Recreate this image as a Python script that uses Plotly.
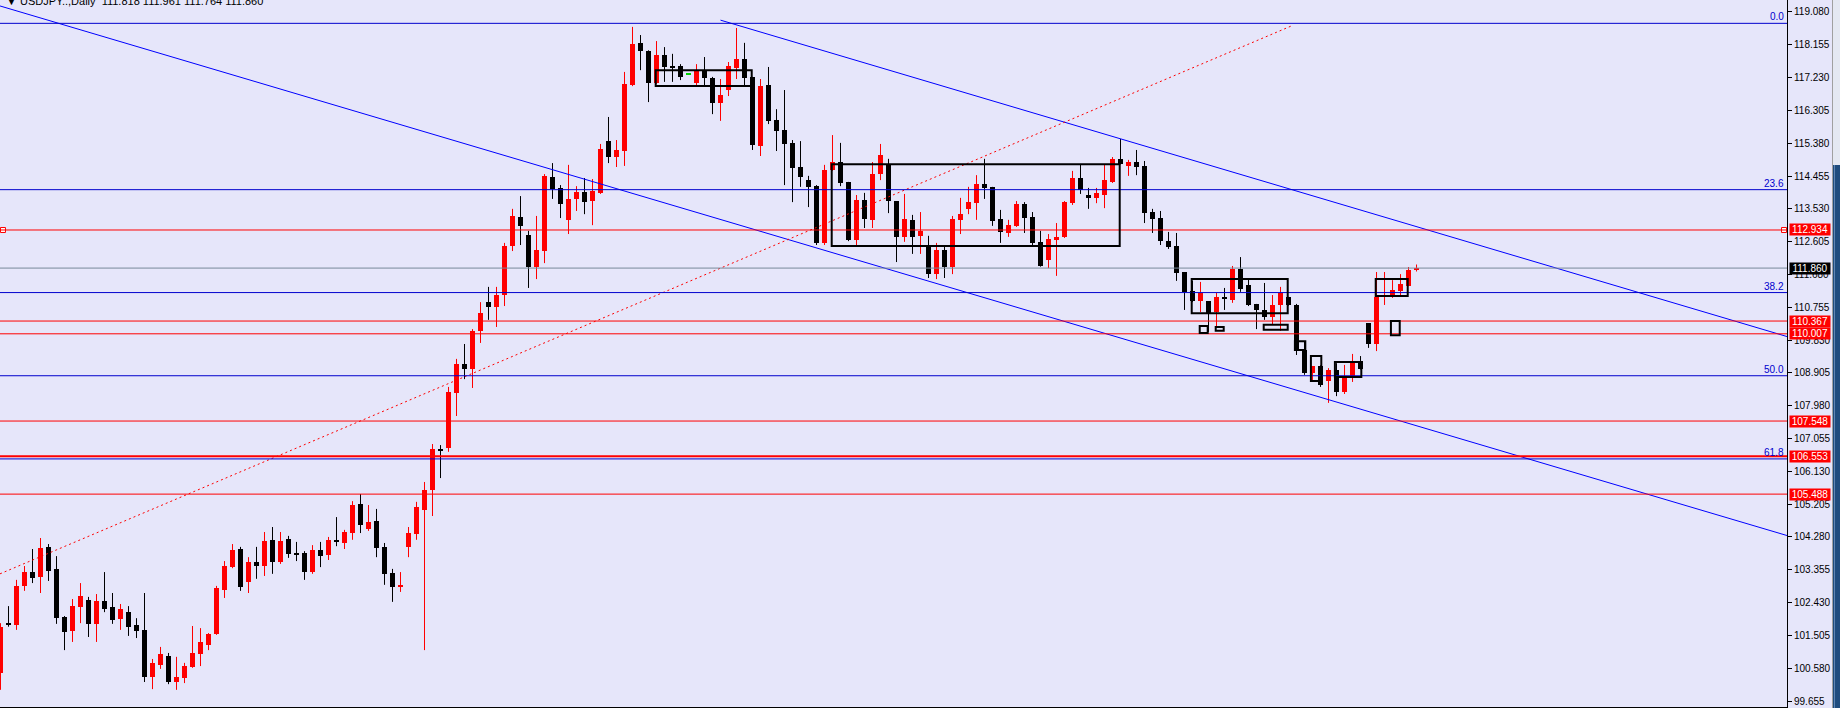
import plotly.graph_objects as go

# ---------------- data (USDJPY daily) ----------------
opens = [100.44, 101.85, 101.80, 102.90, 103.29, 103.15, 104.00, 103.38, 102.02, 101.63,
         102.31, 102.50, 101.83, 102.47, 102.31, 101.97, 102.16, 101.80, 101.66, 100.33,
         100.67, 100.92, 100.19, 100.30, 100.61, 100.98, 101.23, 101.54, 102.78, 103.43,
         103.94, 103.01, 103.57, 103.46, 104.20, 103.57, 104.22, 103.83, 103.83, 103.29,
         103.91, 103.77, 104.20, 104.11, 104.39, 105.21, 104.50, 104.73, 104.00, 103.26,
         102.87, 104.00, 104.36, 105.04, 105.60, 106.76, 106.79, 108.34, 109.16, 109.01,
         110.09, 110.90, 110.76, 111.10, 112.48, 113.30, 112.79, 111.89, 112.34, 114.43,
         114.12, 113.22, 113.81, 114.00, 113.75, 113.98, 115.44, 114.99, 115.16, 117.02,
         118.21, 117.98, 117.08, 117.87, 117.56, 117.56, 117.33, 117.08, 117.44, 117.22,
         116.51, 116.88, 117.50, 117.75, 117.25, 115.30, 117.02, 116.04, 115.75, 115.39,
         114.71, 114.34, 114.17, 112.57, 114.63, 114.85, 114.29, 112.65, 113.78, 113.22,
         114.51, 114.77, 113.75, 112.74, 113.22, 112.77, 112.51, 111.69, 112.37, 111.89,
         113.21, 113.53, 113.69, 114.23, 114.15, 113.24, 112.85, 113.05, 113.67, 113.30,
         112.60, 112.09, 112.65, 112.74, 113.69, 114.40, 113.92, 113.84, 113.92, 114.29,
         114.94, 114.74, 114.85, 114.74, 113.44, 113.27, 112.62, 112.48, 111.75, 111.21,
         110.93, 110.93, 110.62, 111.05, 110.96, 111.83, 111.38, 110.85, 110.68, 110.48,
         110.82, 111.05, 110.82, 109.55, 108.90, 109.10, 108.68, 108.99, 108.37, 108.82,
         109.24, 110.31, 109.72, 111.05, 111.10, 111.21, 111.35, 111.818]
highs = [101.85, 102.33, 103.07, 103.46, 103.94, 104.25, 104.08, 103.74, 102.05, 102.53,
         102.98, 102.59, 102.67, 103.29, 102.70, 102.39, 102.33, 101.99, 102.70, 100.84,
         101.18, 101.01, 100.90, 100.73, 101.77, 101.71, 101.57, 102.90, 103.60, 104.08,
         104.00, 103.71, 104.00, 104.42, 104.56, 104.42, 104.31, 104.14, 103.88, 104.05,
         104.14, 104.28, 104.84, 104.48, 105.29, 105.49, 105.18, 105.07, 104.11, 103.38,
         103.29, 104.56, 105.27, 105.83, 106.90, 106.87, 108.51, 109.30, 109.72, 110.14,
         110.90, 111.33, 111.33, 112.57, 113.53, 113.89, 112.91, 113.33, 114.51, 114.82,
         114.20, 114.77, 114.17, 114.40, 114.37, 115.36, 116.12, 115.47, 117.39, 118.66,
         118.43, 118.00, 118.26, 118.09, 117.90, 117.61, 117.33, 117.61, 117.81, 117.25,
         117.19, 117.67, 118.63, 118.21, 117.25, 117.19, 117.53, 116.34, 116.88, 115.47,
         115.44, 114.46, 114.20, 114.77, 115.61, 115.39, 114.29, 113.92, 113.98, 114.85,
         115.36, 114.94, 113.75, 113.95, 113.36, 113.44, 112.77, 112.57, 112.48, 113.33,
         113.84, 114.15, 114.48, 114.94, 114.15, 113.50, 113.22, 113.75, 113.72, 113.44,
         112.91, 112.82, 113.13, 113.75, 114.60, 114.77, 114.12, 114.12, 114.77, 114.99,
         115.50, 114.91, 115.19, 114.88, 113.53, 113.47, 112.88, 112.85, 111.75, 111.50,
         111.47, 110.93, 111.16, 111.30, 111.92, 112.17, 111.53, 110.85, 111.44, 111.10,
         111.33, 111.05, 110.85, 109.78, 109.10, 109.12, 109.04, 109.18, 109.13, 109.44,
         109.38, 110.31, 111.75, 111.75, 111.52, 111.69, 111.89, 111.961]
lows = [99.97, 101.75, 101.66, 102.76, 102.98, 102.70, 103.04, 101.83, 101.09, 101.32,
        101.85, 101.46, 101.32, 102.16, 101.83, 101.66, 101.49, 101.43, 100.19, 99.99,
        100.56, 100.13, 99.97, 100.16, 100.59, 100.64, 101.09, 101.52, 102.56, 103.40,
        102.76, 102.70, 103.10, 103.18, 103.24, 103.52, 103.69, 103.60, 103.07, 103.24,
        103.43, 103.63, 104.02, 103.94, 104.20, 104.39, 104.45, 103.71, 102.93, 102.45,
        102.73, 103.71, 104.20, 101.09, 104.87, 105.94, 106.68, 107.69, 108.73, 108.48,
        109.75, 110.40, 110.20, 110.79, 112.34, 112.51, 111.30, 111.55, 112.00, 113.81,
        113.27, 112.82, 113.47, 113.38, 113.07, 113.95, 114.82, 114.71, 114.74, 116.99,
        117.44, 116.54, 117.05, 117.11, 117.11, 117.16, 117.33, 117.02, 116.97, 116.20,
        116.01, 116.71, 117.19, 116.97, 115.19, 115.02, 115.92, 115.16, 114.20, 113.72,
        114.15, 113.58, 112.51, 112.51, 114.60, 114.17, 112.62, 112.51, 112.99, 112.99,
        114.34, 113.41, 112.03, 112.60, 112.26, 112.26, 111.58, 111.55, 111.58, 111.69,
        112.82, 113.38, 113.22, 113.81, 113.05, 112.57, 112.74, 113.02, 112.85, 112.51,
        111.90, 111.86, 111.64, 112.71, 113.64, 113.95, 113.53, 113.69, 113.55, 114.26,
        114.78, 114.46, 114.48, 113.13, 112.85, 112.51, 112.40, 111.50, 110.68, 110.90,
        110.62, 110.06, 110.20, 110.68, 110.88, 111.19, 110.79, 110.14, 110.40, 110.28,
        110.09, 110.80, 109.41, 108.85, 108.68, 108.51, 108.06, 108.25, 108.31, 108.65,
        109.00, 109.61, 109.52, 110.82, 111.02, 111.05, 111.35, 111.764]
closes = [101.75, 101.80, 102.90, 103.29, 103.12, 103.97, 103.33, 101.99, 101.60, 102.33,
          102.62, 101.83, 102.47, 102.25, 101.94, 102.25, 101.74, 101.63, 100.33, 100.73,
          100.98, 100.19, 100.33, 100.64, 101.01, 101.32, 101.54, 102.84, 103.46, 103.91,
          102.87, 103.57, 103.46, 104.17, 103.57, 104.17, 103.80, 103.77, 103.29, 103.91,
          103.74, 104.20, 104.14, 104.42, 105.18, 104.62, 104.70, 103.97, 103.24, 102.87,
          102.93, 104.39, 105.12, 105.60, 106.76, 106.70, 108.37, 109.16, 109.01, 110.09,
          110.59, 110.76, 111.10, 112.48, 113.33, 113.05, 111.89, 112.37, 114.46, 114.09,
          113.67, 113.81, 114.00, 113.72, 114.03, 115.22, 114.99, 115.19, 117.05, 118.18,
          117.98, 117.08, 117.87, 117.53, 117.50, 117.25, 117.33, 117.44, 117.22, 116.51,
          116.74, 117.56, 117.75, 117.22, 115.33, 116.99, 116.01, 115.72, 115.36, 114.68,
          114.43, 114.15, 112.57, 114.63, 114.85, 114.26, 112.65, 113.78, 113.24, 114.51,
          115.05, 113.75, 112.74, 113.24, 112.74, 112.91, 111.69, 112.37, 111.89, 113.24,
          113.38, 113.72, 114.23, 114.12, 113.19, 112.88, 113.08, 113.67, 113.27, 112.57,
          111.92, 112.68, 112.74, 113.72, 114.40, 114.06, 113.84, 113.98, 114.34, 114.94,
          114.80, 114.85, 114.71, 113.41, 113.24, 112.62, 112.45, 111.72, 111.19, 110.93,
          111.16, 110.59, 111.05, 110.99, 111.83, 111.27, 110.82, 110.68, 110.48, 110.82,
          111.16, 110.82, 109.55, 108.90, 109.10, 108.56, 108.99, 108.37, 108.79, 109.24,
          109.01, 109.72, 111.05, 111.10, 111.24, 111.41, 111.80, 111.860]

# axis ticks
tick_vals = [119.080, 118.155, 117.230, 116.305, 115.380, 114.455, 113.530, 112.605,
             111.680, 110.755, 109.830, 108.905, 107.980, 107.055, 106.130, 105.205,
             104.280, 103.355, 102.430, 101.505, 100.580, 99.655]

# Fibonacci retracement (swing high / low) and levels
fib_high = 118.76
fib_low = 98.89
fib_levels = [0.0, 23.6, 38.2, 50.0, 61.8]

# red horizontal support/resistance levels
red_levels = [112.934, 110.367, 110.007, 107.548, 106.553, 105.488]
red_widths = [1, 1, 1, 1, 2, 1]
bid_price = 111.860

# trend lines (bar index, price)
chan_low_x = [-0.06, 223.31]
chan_low_y = [119.25, 104.32]
chan_up_x = [90.0, 223.31]
chan_up_y = [118.85, 109.93]
dot_x = [-0.06, 161.5]
dot_y = [103.24, 118.70]
sel_anchor_x = [0.31, 222.94]

# rectangles (bar index from/to, price top/bottom)
rect_x0 = [81.9, 103.9, 148.9, 149.9, 151.9, 157.9, 161.8, 163.8, 166.8, 171.9, 173.8]
rect_x1 = [93.9, 139.9, 160.9, 150.9, 152.9, 160.9, 163.1, 165.1, 170.1, 175.9, 174.9]
rect_y0 = [117.44, 114.79, 111.55, 110.23, 110.20, 110.26, 109.80, 109.38, 109.21, 111.55, 110.37]
rect_y1 = [116.99, 112.48, 110.59, 110.03, 110.09, 110.12, 109.55, 108.68, 108.79, 111.07, 109.97]

header = "\u25BC USDJPY..,Daily  111.818 111.961 111.764 111.860"

# ---------------- styling ----------------
BG = "#E6E6FA"
BULL = "#FF0000"
BEAR = "#000000"
DOJI = "#00D000"
FIB_BLUE = "#0000CD"
W, H = 1840, 708
PLOT_W, PLOT_H = 1787, 707

idx = list(range(len(opens)))
colors, base, height = [], [], []
for o, c in zip(opens, closes):
    colors.append(BULL if c > o else (BEAR if c < o else DOJI))
    base.append(min(o, c))
    height.append(max(abs(c - o), 0.03))

fig = go.Figure()

# wicks
for col in (BULL, BEAR, DOJI):
    wx, wy = [], []
    for i, (h, l, cc) in enumerate(zip(highs, lows, colors)):
        if cc == col:
            wx += [i, i, None]
            wy += [l, h, None]
    if wx:
        fig.add_trace(go.Scatter(x=wx, y=wy, mode="lines", line=dict(color=col, width=1),
                                 hoverinfo="skip"))

# bodies
fig.add_trace(go.Bar(x=idx, y=height, base=base, width=0.625,
                     marker=dict(color=colors, line=dict(width=0)), hoverinfo="skip"))

# trend lines
fig.add_trace(go.Scatter(x=chan_low_x, y=chan_low_y, mode="lines",
                         line=dict(color="#0000FF", width=1), hoverinfo="skip"))
fig.add_trace(go.Scatter(x=chan_up_x, y=chan_up_y, mode="lines",
                         line=dict(color="#0000FF", width=1), hoverinfo="skip"))
fig.add_trace(go.Scatter(x=dot_x, y=dot_y, mode="lines",
                         line=dict(color="#FF0000", width=1, dash="2px,3px"), hoverinfo="skip"))

shapes = []
annotations = []

# fib lines + labels
for lv in fib_levels:
    p = fib_high - lv / 100.0 * (fib_high - fib_low)
    shapes.append(dict(type="line", xref="paper", yref="y", x0=0, x1=1, y0=p, y1=p,
                       line=dict(color=FIB_BLUE, width=1), layer="above"))
    annotations.append(dict(xref="paper", yref="y", x=1, y=p, xanchor="right", yanchor="bottom",
                            xshift=-1, yshift=-1, text=f"{lv:.1f}", showarrow=False,
                            font=dict(family="Liberation Sans", size=10, color=FIB_BLUE)))

# bid line
shapes.append(dict(type="line", xref="paper", yref="y", x0=0, x1=1, y0=bid_price, y1=bid_price,
                   line=dict(color="#778899", width=1), layer="above"))

# red levels
for p, wdt in zip(red_levels, red_widths):
    shapes.append(dict(type="line", xref="paper", yref="y", x0=0, x1=1, y0=p, y1=p,
                       line=dict(color="#FF0000", width=wdt), layer="above"))

# rectangles
for x0, x1, y0, y1 in zip(rect_x0, rect_x1, rect_y0, rect_y1):
    shapes.append(dict(type="rect", xref="x", yref="y", x0=x0, x1=x1, y0=y0, y1=y1,
                       line=dict(color="black", width=2), fillcolor="rgba(0,0,0,0)", layer="above"))

# selected-line anchor squares
fig.add_trace(go.Scatter(x=sel_anchor_x, y=[red_levels[0]] * len(sel_anchor_x), mode="markers",
                         marker=dict(symbol="square", size=5, color="white",
                                     line=dict(color="#FF0000", width=1)),
                         hoverinfo="skip", cliponaxis=False))

# price labels on axis
for p in red_levels:
    annotations.append(dict(xref="paper", yref="y", x=1, y=p, xanchor="left", yanchor="middle",
                            xshift=2, text=f"{p:.3f}", showarrow=False, bgcolor="#FF0000",
                            width=40, height=11, borderpad=0,
                            font=dict(family="Liberation Sans", size=10, color="white")))
annotations.append(dict(xref="paper", yref="y", x=1, y=bid_price, xanchor="left", yanchor="middle",
                        xshift=2, text=f"{bid_price:.3f}", showarrow=False, bgcolor="#000000",
                        width=40, height=11, borderpad=0,
                        font=dict(family="Liberation Sans", size=10, color="white")))

# header (partially cut at the top edge)
annotations.append(dict(xref="paper", yref="paper", x=0, y=1, xanchor="left", yanchor="middle",
                        xshift=4, yshift=-1, text=header, showarrow=False,
                        font=dict(family="Liberation Sans", size=11, color="black")))

# right-side scrollbar
def px_x(p):
    return p / PLOT_W

def px_y(p):
    return (PLOT_H - p) / PLOT_H

shapes.append(dict(type="rect", xref="paper", yref="paper", x0=px_x(1832), x1=px_x(1833),
                   y0=px_y(H), y1=px_y(0), line=dict(width=0), fillcolor="#A0A0A0", layer="above"))
shapes.append(dict(type="rect", xref="paper", yref="paper", x0=px_x(1833), x1=px_x(1840),
                   y0=px_y(165), y1=px_y(0), line=dict(width=0), fillcolor="#E4E8F2", layer="above"))
shapes.append(dict(type="rect", xref="paper", yref="paper", x0=px_x(1833), x1=px_x(1840),
                   y0=px_y(H), y1=px_y(165), line=dict(width=0), fillcolor="#1F4C7E", layer="above"))
shapes.append(dict(type="rect", xref="paper", yref="paper", x0=px_x(1834), x1=px_x(1835),
                   y0=px_y(H), y1=px_y(165), line=dict(width=0), fillcolor="#5F86B4", layer="above"))

fig.update_layout(
    width=W, height=H,
    margin=dict(l=0, r=W - PLOT_W, t=0, b=H - PLOT_H, pad=0),
    paper_bgcolor=BG, plot_bgcolor=BG,
    showlegend=False, barmode="overlay", bargap=0,
    shapes=shapes, annotations=annotations,
    hovermode=False,
)
fig.update_xaxes(range=[-0.0625, 223.31], showgrid=False, zeroline=False, showticklabels=False,
                 ticks="", showline=True, linecolor="black", linewidth=1, automargin=False,
                 fixedrange=True)
fig.update_yaxes(range=[99.486, 119.418], side="right", tickvals=tick_vals,
                 ticktext=[f"{v:.3f}" for v in tick_vals], ticks="outside", ticklen=4,
                 tickcolor="black", showline=True, linecolor="black", linewidth=1,
                 showgrid=False, zeroline=False, automargin=False, fixedrange=True,
                 tickfont=dict(family="Liberation Sans", size=10, color="black"))

fig.write_html("out.html", config={"displayModeBar": False},
               post_script="document.body.style.margin='0';document.body.style.overflow='hidden';")
